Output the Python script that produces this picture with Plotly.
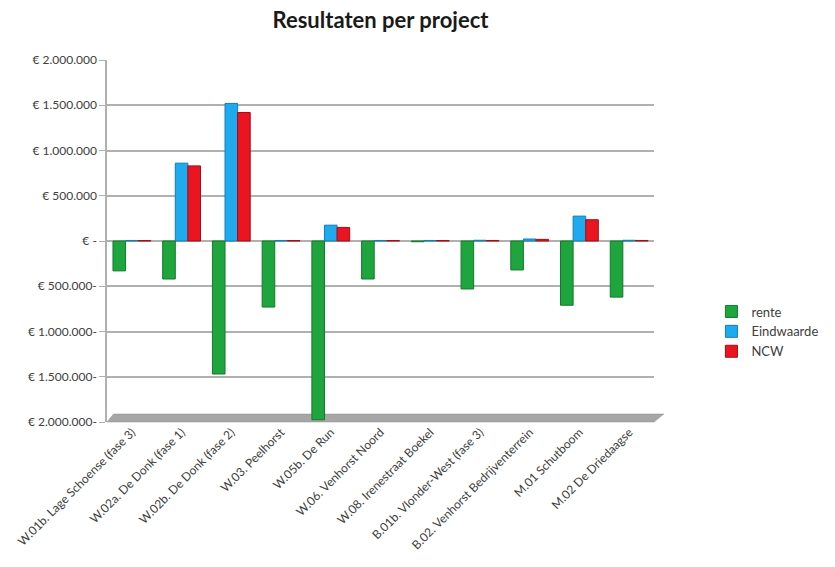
import plotly.graph_objects as go

# Projects and results (euro)
projects = [
    "W.01b. Lage Schoense (fase 3)",
    "W.02a. De Donk (fase 1)",
    "W.02b. De Donk (fase 2)",
    "W.03. Peelhorst",
    "W.05b. De Run",
    "W.06. Venhorst Noord",
    "W.08. Irenestraat Boekel",
    "B.01b. Vlonder-West (fase 3)",
    "B.02. Venhorst Bedrijventerrein",
    "M.01 Schutboom",
    "M.02 De Driedaagse",
]
rente = [-330000, -420000, -1470000, -730000, -1975000, -420000, -8000,
         -530000, -320000, -710000, -620000]
eindwaarde = [6000, 860000, 1520000, 6000, 175000, 6000, 6000,
              8000, 22000, 275000, 8000]
ncw = [5000, 830000, 1420000, 5000, 150000, 5000, 5000,
       6000, 18000, 235000, 6000]

tick_vals = [2000000, 1500000, 1000000, 500000, 0,
             -500000, -1000000, -1500000, -2000000]
tick_text = ["€ 2.000.000", "€ 1.500.000", "€ 1.000.000", "€ 500.000", "€ -",
             "€ 500.000-", "€ 1.000.000-", "€ 1.500.000-", "€ 2.000.000-"]

FONT = "Lato, 'Open Sans', sans-serif"
GRID = "#b0b0b0"

fig = go.Figure()
for name, vals, col, edge in [
    ("rente", rente, "#1fa53d", "#137a2a"),
    ("Eindwaarde", eindwaarde, "#1eaaee", "#0f7fb8"),
    ("NCW", ncw, "#ea1520", "#a80c12"),
]:
    fig.add_bar(x=projects, y=vals, name=name,
                marker=dict(color=col, line=dict(color=edge, width=1)))

# floor slab under the plot area
fig.add_shape(type="path", xref="paper", yref="paper",
              path="M 0,0 L 1.0,0 L 1.018,0.022 L 0.012,0.022 Z",
              fillcolor="#a6a6a6", line=dict(color="#8c8c8c", width=0.5),
              layer="below")

fig.update_layout(
    width=835, height=567,
    margin=dict(l=107, r=178, t=60, b=145),
    paper_bgcolor="white", plot_bgcolor="white",
    barmode="group", bargap=0.24, bargroupgap=0.0,
    font=dict(family=FONT, color="#404040"),
    title=dict(text="<b>Resultaten per project</b>", x=0.5, xref="paper",
               y=0.965, yanchor="middle",
               font=dict(size=22, color="#1a1a1a", family=FONT)),
    showlegend=True,
    legend=dict(x=1.105, y=0.25, xanchor="left", yanchor="middle",
                font=dict(size=13, color="#404040"),
                itemwidth=30, tracegroupgap=2),
    xaxis=dict(tickangle=-45, tickfont=dict(size=12, color="#404040"),
               showgrid=False, showline=False, ticks=""),
    yaxis=dict(range=[-2000000, 2000000], tickvals=tick_vals,
               ticktext=tick_text, tickfont=dict(size=12, color="#404040"),
               showgrid=True, gridcolor=GRID, gridwidth=1.5,
               zeroline=True, zerolinecolor=GRID, zerolinewidth=1.5,
               showline=True, linecolor=GRID, linewidth=1.5,
               ticks="outside", ticklen=6, tickcolor=GRID),
)

fig.write_html("out.html")
